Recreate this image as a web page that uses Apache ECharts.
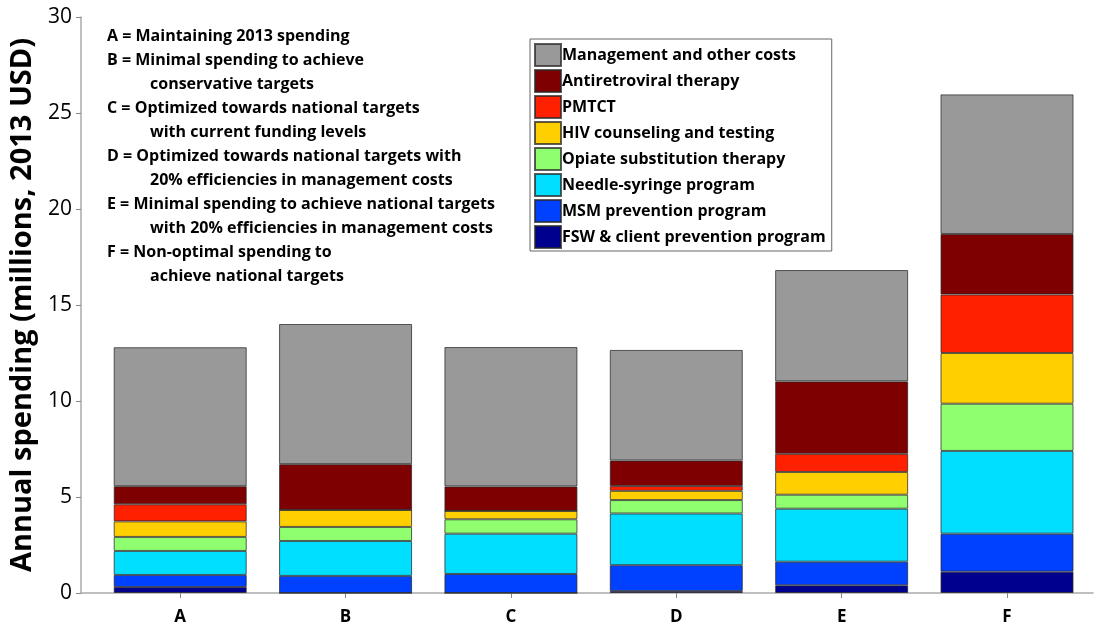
<!DOCTYPE html>
<html>
<head>
<meta charset="utf-8">
<script src="https://cdn.jsdelivr.net/npm/echarts@6/dist/echarts.min.js"></script>
<style>
  html, body { margin: 0; padding: 0; background: #fff; }
  #chart { width: 1099px; height: 626px; }
</style>
</head>
<body>
<div id="chart"></div>
<script>
// scenario letters on the x axis
const categories = ['A', 'B', 'C', 'D', 'E', 'F'];
const xPos = [1, 2, 3, 4, 5, 6];

// spending per program, millions 2013 USD (bottom of stack first)
const fsw   = [0.31, 0,    0,    0.10, 0.40, 1.11];
const msm   = [0.63, 0.89, 0.99, 1.35, 1.23, 1.98];
const nsp   = [1.25, 1.82, 2.10, 2.69, 2.76, 4.31];
const ost   = [0.73, 0.73, 0.75, 0.70, 0.73, 2.46];
const hct   = [0.81, 0.89, 0.44, 0.48, 1.18, 2.64];
const pmtct = [0.89, 0,    0,    0.25, 0.95, 3.05];
const art   = [0.94, 2.38, 1.27, 1.33, 3.77, 3.15];
const mgmt  = [7.24, 7.30, 7.26, 5.76, 5.80, 7.27];

const yTicks = [0, 5, 10, 15, 20, 25, 30];

const seriesDefs = [
  { name: 'FSW & client prevention program', data: fsw, color: '#00008f' },
  { name: 'MSM prevention program', data: msm, color: '#0040ff' },
  { name: 'Needle-syringe program', data: nsp, color: '#00dfff' },
  { name: 'Opiate substitution therapy', data: ost, color: '#8fff6f' },
  { name: 'HIV counseling and testing', data: hct, color: '#ffcf00' },
  { name: 'PMTCT', data: pmtct, color: '#ff2000' },
  { name: 'Antiretroviral therapy', data: art, color: '#7f0000' },
  { name: 'Management and other costs', data: mgmt, color: '#999999' }
];

const notes = [
  ['A = Maintaining 2013 spending', false],
  ['B = Minimal spending to achieve', false],
  ['conservative targets', true],
  ['C = Optimized towards national targets', false],
  ['with current funding levels', true],
  ['D = Optimized towards national targets with', false],
  ['20% efficiencies in management costs', true],
  ['E = Minimal spending to achieve national targets', false],
  ['with 20% efficiencies in management costs', true],
  ['F = Non-optimal spending to', false],
  ['achieve national targets', true]
];

const FONT = '"Open Sans", Lato, sans-serif';
const chart = echarts.init(document.getElementById('chart'));

const option = {
  animation: false,
  textStyle: { fontFamily: FONT },
  grid: { left: 81, right: 6, top: 17, bottom: 33, containLabel: false },
  legend: {
    orient: 'vertical',
    left: 530,
    top: 39,
    padding: [4, 6, 2, 4],
    itemWidth: 26,
    itemHeight: 22,
    itemGap: 2,
    borderColor: '#666',
    borderWidth: 1,
    icon: 'rect',
    textStyle: {
      fontFamily: FONT, fontWeight: 'bold', fontSize: 16, lineHeight: 22,
      color: '#000', padding: [0, 0, 0, -4]
    },
    data: seriesDefs.map(s => s.name).reverse()
  },
  xAxis: {
    type: 'value',
    min: 0.4,
    max: 6.52,
    splitLine: { show: false },
    axisLine: { show: true, lineStyle: { color: '#aaa', width: 1.5 } },
    axisTick: { show: true, length: 5, lineStyle: { color: '#888' }, customValues: xPos },
    axisLabel: {
      customValues: xPos,
      margin: 16,
      fontFamily: FONT,
      fontWeight: 'bold',
      fontSize: 17,
      color: '#000',
      formatter: v => categories[Math.round(v) - 1] || ''
    }
  },
  yAxis: {
    type: 'value',
    min: 0,
    max: 30,
    interval: 5,
    name: 'Annual spending (millions, 2013 USD)',
    nameLocation: 'middle',
    nameGap: 35,
    nameTextStyle: { fontFamily: FONT, fontWeight: 'bold', fontSize: 29, color: '#000' },
    splitLine: { show: false },
    axisLine: { show: true, lineStyle: { color: '#aaa', width: 1.5 } },
    axisTick: { show: true, inside: false, length: 5, lineStyle: { color: '#888' } },
    axisLabel: {
      margin: 9,
      fontFamily: FONT,
      fontSize: 21,
      color: '#000',
      customValues: yTicks
    }
  },
  graphic: notes.map((n, i) => ({
    type: 'text',
    left: n[1] ? 150 : 107,
    top: 28 + i * 24,
    style: {
      text: n[0],
      font: 'bold 16px ' + FONT,
      fill: '#000'
    }
  })),
  // value in dim 0 so the stack runs along y; x position in dim 1
  series: seriesDefs.map(s => ({
    name: s.name,
    type: 'bar',
    stack: 'total',
    barWidth: 133,
    encode: { x: 1, y: 0 },
    data: s.data.map((v, i) => [v, xPos[i]]),
    itemStyle: {
      color: s.color,
      borderColor: 'rgba(40,40,40,0.75)',
      borderWidth: 1
    }
  }))
};

chart.setOption(option);
</script>
</body>
</html>
